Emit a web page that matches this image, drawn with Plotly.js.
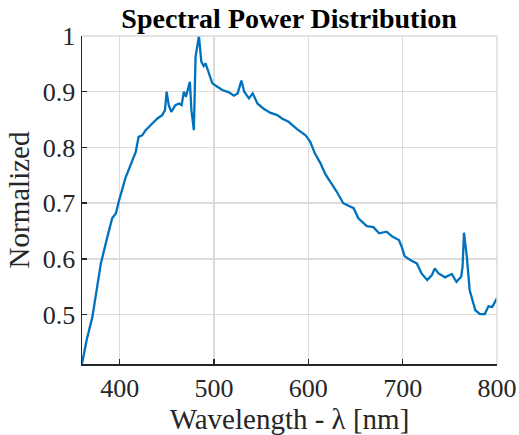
<!DOCTYPE html>
<html>
<head>
<meta charset="utf-8">
<script src="https://cdn.plot.ly/plotly-3.0.1.min.js"></script>
<style>html,body{margin:0;padding:0;background:#fff}#chart{width:519px;height:435px}</style>
</head>
<body>
<div id="chart"></div>
<script>
const wavelength = [360, 365, 371, 375, 378, 380, 387, 392, 396, 399, 406, 410, 417, 420, 424, 427.5, 431, 434.5, 440, 445, 448, 449.7, 452, 454.7, 459, 463, 465.6, 468, 470.2, 472.3, 474.4, 476, 478.6, 480.4, 484, 486.5, 489, 491, 494.7, 498.2, 503.5, 508.7, 515.8, 521, 525, 529, 532, 537, 541, 546, 553, 560, 567, 572, 579, 588, 597, 602, 607, 613, 618, 623, 630, 637, 644, 648, 653, 662, 669, 675, 683, 689, 696, 699, 702, 708, 715, 720, 726, 731, 734, 738, 745, 752, 757, 762, 763.5, 765, 768, 771, 777, 782, 787, 791, 795, 800];
const normalized = [0.412, 0.455, 0.496, 0.540, 0.568, 0.592, 0.640, 0.673, 0.682, 0.703, 0.745, 0.762, 0.792, 0.819, 0.822, 0.831, 0.838, 0.843, 0.852, 0.858, 0.867, 0.900, 0.876, 0.864, 0.876, 0.879, 0.876, 0.900, 0.891, 0.903, 0.918, 0.867, 0.831, 0.963, 1.000, 0.954, 0.946, 0.951, 0.933, 0.915, 0.909, 0.903, 0.899, 0.893, 0.897, 0.920, 0.900, 0.888, 0.897, 0.879, 0.869, 0.862, 0.858, 0.852, 0.846, 0.833, 0.822, 0.810, 0.789, 0.771, 0.752, 0.740, 0.721, 0.700, 0.695, 0.691, 0.673, 0.659, 0.657, 0.646, 0.649, 0.640, 0.634, 0.622, 0.605, 0.598, 0.592, 0.574, 0.562, 0.571, 0.583, 0.574, 0.567, 0.573, 0.559, 0.568, 0.586, 0.647, 0.604, 0.544, 0.508, 0.501, 0.501, 0.515, 0.514, 0.530];
const xTicks = [400, 500, 600, 700, 800];
const yTicks = [0.5, 0.6, 0.7, 0.8, 0.9, 1];
const yTickText = ['0.5', '0.6', '0.7', '0.8', '0.9', '1'];

const font = '"Liberation Serif", "Times New Roman", serif';
Plotly.newPlot('chart', [{
  x: wavelength, y: normalized, type: 'scatter', mode: 'lines',
  line: {color: '#0072BD', width: 2.3}, hoverinfo: 'none'
}], {
  width: 519, height: 435,
  margin: {l: 82, r: 22, t: 36, b: 71},
  paper_bgcolor: '#fff', plot_bgcolor: '#fff',
  showlegend: false,
  font: {family: font},
  title: {text: '<b>Spectral Power Distribution</b>', font: {family: font, size: 28, color: '#000'}, x: 0.557, xanchor: 'center', y: 0.958, yanchor: 'middle'},
  xaxis: {
    range: [360, 800], tickvals: xTicks, ticks: 'inside', ticklen: 5, tickwidth: 1.5, tickcolor: '#262626',
    showline: true, linecolor: '#262626', linewidth: 1.5,
    showgrid: true, gridcolor: '#dbdbdb', gridwidth: 1.5, zeroline: false,
    tickfont: {family: font, size: 26, color: '#262626'},
    title: {text: 'Wavelength - λ [nm]', font: {family: font, size: 29, color: '#262626'}, standoff: 2}
  },
  yaxis: {
    range: [0.4115, 1], tickvals: yTicks, ticktext: yTickText, ticks: 'inside', ticklen: 5, tickwidth: 1.5, tickcolor: '#262626',
    showline: true, linecolor: '#262626', linewidth: 1.5,
    showgrid: true, gridcolor: '#dbdbdb', gridwidth: 1.5, zeroline: false,
    tickfont: {family: font, size: 26, color: '#262626'},
    title: {text: 'Normalized', font: {family: font, size: 29, color: '#262626'}, standoff: 4}
  },
  shapes: [
    {type: 'line', xref: 'paper', yref: 'paper', x0: 0, x1: 1, y0: 1, y1: 1, line: {color: '#dbdbdb', width: 1.5}},
    {type: 'line', xref: 'paper', yref: 'paper', x0: 1, x1: 1, y0: 0, y1: 1, line: {color: '#dbdbdb', width: 1.5}}
  ]
}, {displayModeBar: false, staticPlot: true});
</script>
</body>
</html>
